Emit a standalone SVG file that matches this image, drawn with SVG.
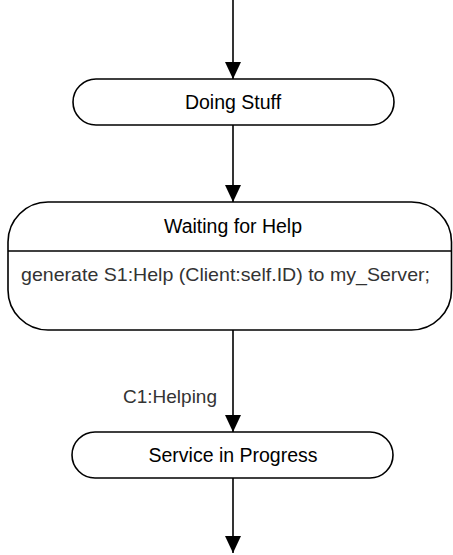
<svg xmlns="http://www.w3.org/2000/svg" width="453" height="555" viewBox="0 0 453 555">
<style>
.node{fill:#fff;stroke:#000;stroke-width:1.6}
.title{font-family:"Liberation Sans",Arial,sans-serif;font-size:19.5px;fill:#000;text-anchor:middle}
.body{font-family:"Liberation Sans",Arial,sans-serif;font-size:19px;fill:#333}
.lbl{font-family:"Liberation Sans",Arial,sans-serif;font-size:19px;fill:#333}
.edge{stroke:#000;stroke-width:1.6;fill:none}
</style>
<defs>
<marker id="arr" markerUnits="userSpaceOnUse" markerWidth="18" markerHeight="18" viewBox="0 0 18 18" refX="17" refY="9" orient="auto">
<path d="M0,1 L17,9 L0,17 Z" fill="#000"/>
</marker>
</defs>
<rect width="453" height="555" fill="#fff"/>
<g id="connectors">
<line class="edge" x1="233" y1="0" x2="233" y2="79" marker-end="url(#arr)"/>
<line class="edge" x1="233" y1="125" x2="233" y2="202" marker-end="url(#arr)"/>
<line class="edge" x1="233" y1="330" x2="233" y2="432" marker-end="url(#arr)"/>
<text class="lbl" x="123" y="403">C1:Helping</text>
<line class="edge" x1="233" y1="478" x2="233" y2="553" marker-end="url(#arr)"/>
</g>
<g id="doing-stuff">
<rect class="node" x="73" y="79" width="321" height="46" rx="23" ry="23"/>
<text class="title" x="233" y="109">Doing Stuff</text>
</g>
<g id="waiting-for-help">
<rect class="node" x="8" y="202" width="443.5" height="128" rx="40" ry="40"/>
<line class="edge" x1="8" y1="251" x2="451.5" y2="251"/>
<text class="title" x="233" y="233">Waiting for Help</text>
<text class="body" x="21" y="281" textLength="409" lengthAdjust="spacingAndGlyphs">generate S1:Help (Client:self.ID) to my_Server;</text>
</g>
<g id="service-in-progress">
<rect class="node" x="72" y="432" width="321" height="46" rx="23" ry="23"/>
<text class="title" x="233" y="462">Service in Progress</text>
</g>
</svg>
